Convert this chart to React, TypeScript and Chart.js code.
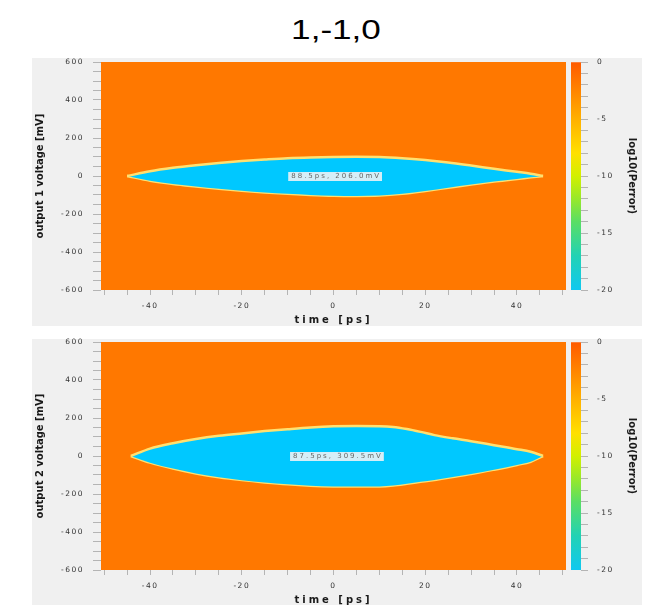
import React, { useEffect, useRef } from 'react';
import { Chart, registerables } from 'chart.js';
Chart.register(...registerables);

// ---------- data ----------
const X_MIN = -50.7;
const X_MAX = 50.7;
const Y_MIN = -600;
const Y_MAX = 600;
const CB_MIN = -20;
const CB_MAX = 0;

const xMajorTicks = [-40, -20, 0, 20, 40];
const yMajorTicks = [-600, -400, -200, 0, 200, 400, 600];
const cbMajorTicks = [-20, -15, -10, -5, 0];

const eyeTime1 = [-45, -40, -35, -30, -25, -20, -15, -10, -5, 0, 5, 10, 15, 20, 25, 30, 35, 40, 43, 45.7];
const eyeUpper1 = [0, 25, 43, 57, 69, 79, 87, 94, 98, 100, 101, 100, 94, 84, 71, 55, 38, 22, 12, 0];
const eyeLower1 = [0, -25, -42, -55, -67, -78, -87, -94, -100, -104, -105, -103, -94, -79, -62, -45, -29, -16, -7, 0];
const eyeLabel1 = '88.5ps, 206.0mV';

const eyeTime2 = [-44.2, -40, -35, -30, -25, -20, -15, -10, -5, 0, 5, 10, 13, 16, 19, 22, 26, 30, 35, 40, 43, 45.7];
const eyeUpper2 = [0, 39, 67, 89, 106, 119, 131, 141, 150, 156, 158, 157, 153, 142, 127, 110, 93, 78, 57, 36, 22, 0];
const eyeLower2 = [0, -35, -66, -92, -112, -127, -139, -149, -156, -160, -161, -160, -155, -146, -136, -126, -110, -95, -72, -47, -30, 0];
const eyeLabel2 = '87.5ps, 309.5mV';

const cbStops = [-20, -17, -14, -12, -10, -8, -5, -2, 0];
const cbColors = ['#10c8f0', '#22d2b4', '#5ade64', '#98e82a', '#d2f000', '#ffe000', '#ffb000', '#ff7c00', '#ff5a00'];

const TITLE = '1,-1,0';

// ---------- styles ----------
const ORANGE = '#ff7800';
const CYAN = '#00c8ff';
const EDGE = '#ffe070';
const TICK_FONT = { family: 'DejaVu Sans', size: 7.5 };
const TITLE_FONT = { family: 'DejaVu Sans', size: 10, weight: 'bold' as const };

const bgPlugin = {
  id: 'areaBg',
  beforeDatasetsDraw(chart: any) {
    const { ctx, chartArea } = chart;
    ctx.save();
    ctx.fillStyle = ORANGE;
    ctx.fillRect(chartArea.left, chartArea.top, chartArea.right - chartArea.left, chartArea.bottom - chartArea.top);
    ctx.restore();
  },
};

function spacingPlugin(titleSpacing: Record<string, string>) {
  return {
    id: 'spacing',
    beforeDraw(chart: any) {
      chart.ctx.letterSpacing = '1.5px';
    },
    afterLayout(chart: any) {
      Object.keys(titleSpacing).forEach((id) => {
        const s = chart.scales[id];
        if (s && !s.__patched) {
          const orig = s.drawTitle.bind(s);
          s.drawTitle = () => {
            const c = chart.ctx;
            const prev = c.letterSpacing;
            c.letterSpacing = titleSpacing[id];
            orig();
            c.letterSpacing = prev;
          };
          s.__patched = true;
        }
      });
    },
  };
}

function labelPlugin(text: string, xs: number[]) {
  return {
    id: 'eyeLabel',
    afterDatasetsDraw(chart: any) {
      const { ctx, scales } = chart;
      const cx = scales.x.getPixelForValue((xs[0] + xs[xs.length - 1]) / 2);
      const cy = scales.y.getPixelForValue(0);
      ctx.save();
      ctx.letterSpacing = '2px';
      ctx.font = '7px "DejaVu Sans"';
      const w = ctx.measureText(text).width + 4;
      ctx.fillStyle = 'rgba(236,242,246,0.9)';
      ctx.fillRect(cx - w / 2, cy - 4, w, 9);
      ctx.fillStyle = '#666';
      ctx.textAlign = 'center';
      ctx.textBaseline = 'middle';
      ctx.fillText(text, cx + 1, cy + 0.5);
      ctx.restore();
    },
  };
}

const zeroPad = (s: any) => {
  s.paddingTop = 0;
  s.paddingBottom = 0;
  s.paddingLeft = 0;
  s.paddingRight = 0;
};

function makeEyeChart(canvas: HTMLCanvasElement, xs: number[], upper: number[], lower: number[], yTitle: string, label: string) {
  const lineCommon = {
    pointRadius: 0,
    borderColor: EDGE,
    borderWidth: 2.5,
    cubicInterpolationMode: 'monotone' as const,
  };
  return new Chart(canvas, {
    type: 'line',
    data: {
      datasets: [
        { ...lineCommon, data: xs.map((x, i) => ({ x, y: upper[i] })), fill: '+1', backgroundColor: CYAN },
        { ...lineCommon, data: xs.map((x, i) => ({ x, y: lower[i] })), fill: false },
      ],
    },
    options: {
      responsive: false,
      animation: false,
      events: [],
      layout: { padding: { top: 4, right: 6, left: 0, bottom: 0 } },
      plugins: { legend: { display: false }, tooltip: { enabled: false } },
      scales: {
        x: {
          type: 'linear',
          min: X_MIN,
          max: X_MAX,
          afterFit: (s: any) => { s.height = 38; zeroPad(s); },
          border: { display: false },
          grid: { drawOnChartArea: false, drawTicks: true, tickLength: 5, tickColor: '#b4b4b4' },
          ticks: {
            stepSize: 5,
            includeBounds: false,
            autoSkip: false,
            maxRotation: 0,
            padding: 7,
            color: '#333',
            font: TICK_FONT,
            callback: (v: any) => (xMajorTicks.includes(Number(v)) ? String(v) : ''),
          },
          title: { display: true, text: 'time [ps]', color: '#1a1a1a', font: TITLE_FONT, padding: { top: 0, bottom: 2 } },
        },
        y: {
          type: 'linear',
          min: Y_MIN,
          max: Y_MAX,
          afterFit: (s: any) => { s.width = 69; zeroPad(s); },
          border: { display: false },
          grid: { drawOnChartArea: false, drawTicks: true, tickLength: 8, tickColor: '#b4b4b4' },
          ticks: {
            stepSize: 50,
            autoSkip: false,
            padding: 9,
            color: '#333',
            font: TICK_FONT,
            callback: (v: any) => (yMajorTicks.includes(Number(v)) ? String(v) : ''),
          },
          title: { display: true, text: yTitle, color: '#1a1a1a', font: TITLE_FONT, padding: { top: 2, bottom: 0 } },
        },
      },
    },
    plugins: [bgPlugin, labelPlugin(label, xs), spacingPlugin({ x: '3px', y: '0px' })],
  } as any);
}

function makeColorbar(canvas: HTMLCanvasElement) {
  return new Chart(canvas, {
    type: 'bar',
    data: {
      labels: ['log10(Perror)'],
      datasets: [
        {
          data: [[CB_MIN, CB_MAX]],
          borderWidth: 0,
          barPercentage: 1,
          categoryPercentage: 1,
          backgroundColor: (ctx: any) => {
            const chart = ctx.chart;
            const ys = chart.scales && chart.scales.y;
            if (!ys || !chart.chartArea) return cbColors[0];
            const g = chart.ctx.createLinearGradient(0, ys.getPixelForValue(CB_MIN), 0, ys.getPixelForValue(CB_MAX));
            cbStops.forEach((v, i) => g.addColorStop((v - CB_MIN) / (CB_MAX - CB_MIN), cbColors[i]));
            return g;
          },
        },
      ],
    },
    options: {
      responsive: false,
      animation: false,
      events: [],
      layout: { padding: { left: 5, top: 4, bottom: 38, right: 0 } },
      plugins: { legend: { display: false }, tooltip: { enabled: false } },
      scales: {
        x: { display: false },
        y: {
          position: 'right',
          min: CB_MIN,
          max: CB_MAX,
          afterFit: (s: any) => { s.width = 61; zeroPad(s); },
          border: { display: false },
          grid: { drawOnChartArea: false, drawTicks: true, tickLength: 7, tickColor: '#b4b4b4' },
          ticks: {
            stepSize: 1,
            autoSkip: false,
            padding: 9,
            color: '#333',
            font: TICK_FONT,
            callback: (v: any) => (cbMajorTicks.includes(Number(v)) ? String(v) : ''),
          },
          title: { display: true, text: 'log10(Perror)', color: '#1a1a1a', font: TITLE_FONT, padding: { top: 4, bottom: 0 } },
        },
      },
    },
    plugins: [spacingPlugin({ y: '0px' })],
  } as any);
}

function EyePanel(props: { top: number; bgTop: number; bgHeight: number; yTitle: string; xs: number[]; upper: number[]; lower: number[]; label: string }) {
  const mainRef = useRef<HTMLCanvasElement>(null);
  const cbRef = useRef<HTMLCanvasElement>(null);
  useEffect(() => {
    const a = makeEyeChart(mainRef.current!, props.xs, props.upper, props.lower, props.yTitle, props.label);
    const b = makeColorbar(cbRef.current!);
    return () => {
      a.destroy();
      b.destroy();
    };
  }, []);
  return (
    <>
      <div style={{ position: 'absolute', left: 32, top: props.bgTop, width: 610, height: props.bgHeight, background: '#f0f0f0' }} />
      <canvas ref={mainRef} width={540} height={270} style={{ position: 'absolute', left: 32, top: props.top }} />
      <canvas ref={cbRef} width={76} height={270} style={{ position: 'absolute', left: 566, top: props.top }} />
    </>
  );
}

export default function App() {
  return (
    <div style={{ position: 'absolute', left: 0, top: 0, width: 648, height: 605, overflow: 'hidden', background: '#ffffff' }}>
      <div
        style={{
          position: 'absolute',
          left: 24,
          top: 15,
          width: 624,
          textAlign: 'center',
          fontFamily: '"Liberation Sans", Arial, sans-serif',
          fontSize: 27,
          color: '#000',
          transform: 'scaleX(1.3)',
          transformOrigin: '50% 50%',
        }}
      >
        {TITLE}
      </div>
      <EyePanel top={58} bgTop={58} bgHeight={268} yTitle="output 1 voltage [mV]" xs={eyeTime1} upper={eyeUpper1} lower={eyeLower1} label={eyeLabel1} />
      <EyePanel top={338} bgTop={339} bgHeight={266} yTitle="output 2 voltage [mV]" xs={eyeTime2} upper={eyeUpper2} lower={eyeLower2} label={eyeLabel2} />
    </div>
  );
}
